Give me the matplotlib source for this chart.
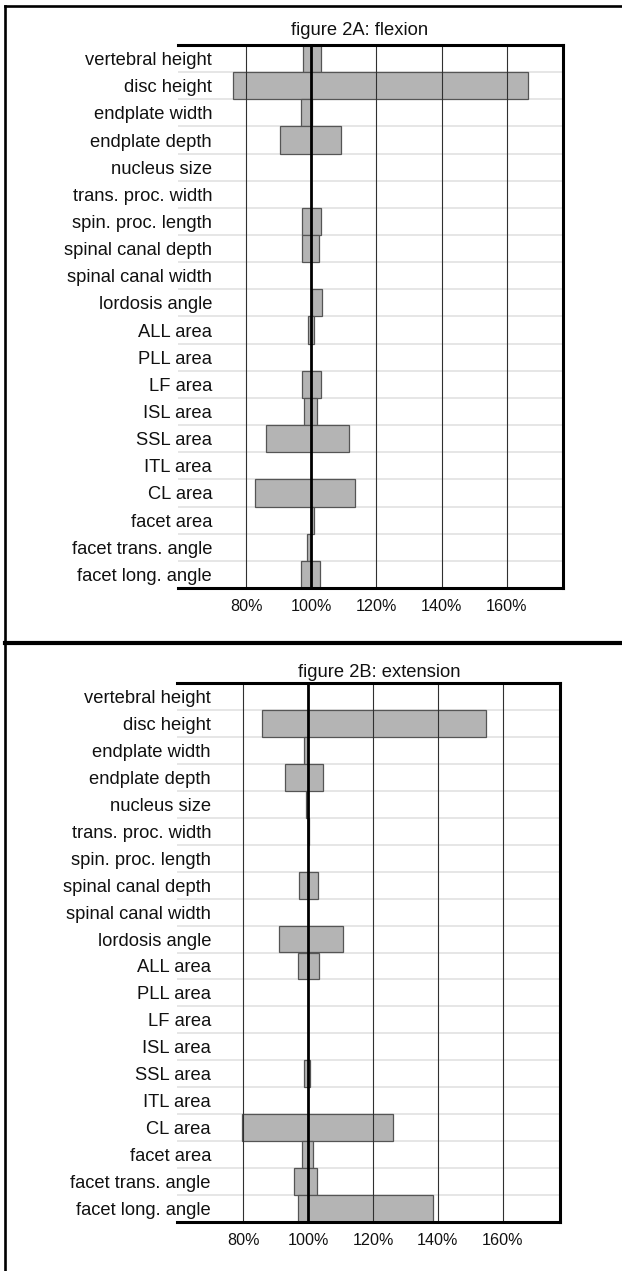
import numpy as np
import matplotlib
matplotlib.use("Agg")
import matplotlib.pyplot as plt
from matplotlib.lines import Line2D

plt.rcParams['font.family'] = ['Liberation Sans', 'DejaVu Sans']

categories = ["vertebral height", "disc height", "endplate width", "endplate depth",
              "nucleus size", "trans. proc. width", "spin. proc. length",
              "spinal canal depth", "spinal canal width", "lordosis angle",
              "ALL area", "PLL area", "LF area", "ISL area", "SSL area", "ITL area",
              "CL area", "facet area", "facet trans. angle", "facet long. angle"]

# flexion: range (low %, high %) per category, None = no bar
flex_low = [97.5, 76.1, 97.0, 90.3, None, None, 97.2, 97.3, None, 100.2,
            99.1, None, 97.3, 97.9, 86.0, None, 82.7, 99.8, 98.8, 97.0]
flex_high = [102.9, 166.7, 100.2, 109.1, None, None, 103.1, 102.4, None, 103.3,
             100.8, None, 102.9, 101.9, 111.5, None, 113.5, 100.8, 100.0, 102.6]

# extension
ext_low = [None, 85.9, 98.6, 92.9, 99.4, 100.0, None, 97.3, None, 91.1,
           97.0, None, None, None, 98.6, None, 79.6, 98.2, 95.7, 96.8]
ext_high = [None, 154.7, 100.0, 104.5, 100.0, 100.4, None, 103.0, None, 110.8,
            103.3, None, None, None, 100.6, None, 126.3, 101.6, 102.7, 138.5]

ticks = [80, 100, 120, 140, 160]
tick_labels = ["80%", "100%", "120%", "140%", "160%"]
titles = ["figure 2A: flexion", "figure 2B: extension"]

W, H = 622, 1271
fig = plt.figure(figsize=(W / 100, H / 100), dpi=100)


def fx(px):
    return px / W


def fy(py):
    return 1 - py / H


def panel(left, right, top, bottom, xlim, lows, highs, ypad_px):
    ax = fig.add_axes([fx(left), fy(bottom), fx(right) - fx(left), fy(top) - fy(bottom)])
    n = len(categories)
    y = np.arange(n)
    for i in range(n):
        lo, hi = lows[i], highs[i]
        if lo is None or hi is None:
            continue
        ax.barh(y[i], hi - lo, left=lo, height=1.0, color='#b4b4b4',
                edgecolor='#555555', linewidth=0.9, zorder=2)
    for b in np.arange(n - 1) + 0.5:
        ax.axhline(b, color='#e4e4e4', lw=1.3, zorder=1)
    for t in ticks:
        if t == 100:
            ax.axvline(t, color='black', lw=2.0, zorder=4)
        else:
            ax.axvline(t, color='#303030', lw=0.8, zorder=3)
    ax.set_xlim(*xlim)
    ax.set_ylim(n - 0.5, -0.5)
    ax.set_yticks(y)
    ax.set_yticklabels(categories, fontsize=13.2, color='#111111')
    ax.set_xticks(ticks)
    ax.set_xticklabels(tick_labels, fontsize=11.6, color='#111111')
    ax.tick_params(axis='y', length=0, pad=-ypad_px * 0.72)
    ax.tick_params(axis='x', length=0, pad=8)
    ax.spines['left'].set_visible(False)
    for s in ['top', 'right', 'bottom']:
        ax.spines[s].set_linewidth(2.2)
        ax.spines[s].set_color('black')
        ax.spines[s].set_zorder(6)
    ax.set_facecolor('none')
    return ax


panel(178, 563, 45, 588, (59.1, 177.3), flex_low, flex_high, 34)
panel(176.6, 559.5, 683.3, 1221.7, (59.45, 177.5), ext_low, ext_high, 34.4)

fig.text(fx(359.4), fy(30.7), titles[0], ha='center', va='center', fontsize=13.2,
         color='#111111')
fig.text(fx(379.4), fy(672.7), titles[1], ha='center', va='center', fontsize=13.2,
         color='#111111')

# outer frames
fig.add_artist(Line2D([fx(4.8), 1.0], [fy(6), fy(6)], transform=fig.transFigure,
                      color='black', lw=1.9))
fig.add_artist(Line2D([fx(4.8), fx(4.8)], [fy(6), 0.0], transform=fig.transFigure,
                      color='black', lw=1.9))
fig.add_artist(Line2D([fx(4.8), 1.0], [fy(643.3), fy(643.3)], transform=fig.transFigure,
                      color='black', lw=3.0))

fig.savefig("out.png", dpi=100)
